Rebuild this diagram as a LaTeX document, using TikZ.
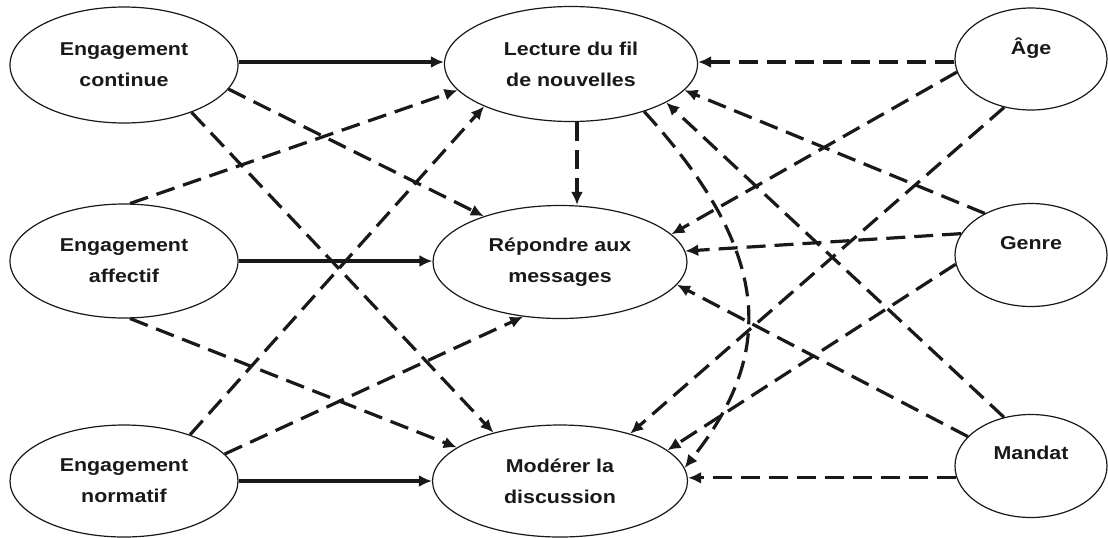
\documentclass[tikz,border=0pt]{standalone}
\usepackage{fontspec}
\newfontfamily\labfont[FakeStretch=1.15]{Liberation Sans}
\usetikzlibrary{shapes.geometric,arrows.meta}
\definecolor{ink}{RGB}{25,25,25}

\begin{document}
\begin{tikzpicture}[x=0.5pt,y=-0.5pt,
  labtext/.style={font={\labfont\bfseries\fontsize{9.3}{15.5}\selectfont}, text=ink},
  oval/.style={ellipse, draw=ink, line width=0.6pt, fill=white, inner sep=0pt,
               align=center, labtext},
  link/.style={line width=1.6pt, draw=ink, -{Latex[length=6.5pt,width=6pt]}},
  dlink/.style={link, dash pattern=on 9.5pt off 4.5pt},
]
\useasboundingbox (0,0) rectangle (1108,537);

% engagement types (left column)
\node[oval, minimum width=114pt, minimum height=58pt] (ec) at (124,65) {Engagement\\continue};
\node[oval, minimum width=114pt, minimum height=57pt] (ea) at (124,261) {Engagement\\affectif};
\node[oval, minimum width=114pt, minimum height=56pt] (en) at (124,481) {Engagement\\normatif};

% behaviours (middle column)
\node[oval, minimum width=126.5pt, minimum height=57.5pt] (lec) at (571,64) {Lecture du fil\\de nouvelles};
\node[oval, minimum width=127pt, minimum height=56.5pt] (rep) at (560,262) {Répondre aux\\messages};
\node[oval, minimum width=127.5pt, minimum height=56pt] (mod) at (560,481) {Modérer la\\discussion};

% control variables (right column)
\node[oval, minimum width=76pt, minimum height=51pt,
      label={[labtext, yshift=5.5pt]center:Âge}] (age) at (1031,59) {};
\node[oval, minimum width=76pt, minimum height=51.5pt,
      label={[labtext, yshift=6pt]center:Genre}] (gen) at (1031,255) {};
\node[oval, minimum width=76pt, minimum height=51.5pt,
      label={[labtext, yshift=6.5pt]center:Mandat}] (man) at (1031,466) {};

% direct effects
\coordinate (ecR) at ([yshift=1.5pt]ec.east);
\draw[link] (ecR) -- (ecR -| lec.west);
\draw[link] (ea.east) -- (ea.east -| rep.west);
\draw[link] (en.east) -- (en.east -| mod.west);

% cross effects of engagement
\draw[dlink] (ec.-13) -- (rep.149);
\draw[dlink] (ec.-35) -- (mod.144);
\draw[dlink] (ea.84) -- (lec.193);
\draw[dlink] (ea.-84) -- (mod.162);
\draw[dlink] (en.35) -- (lec.206);
\draw[dlink] (en.15) -- (rep.236);

% links between behaviours
\draw[dlink] ([xshift=3pt]lec.south) -- ([xshift=8.5pt]rep.north);
\draw[dlink] (lec.-33) .. controls (780,260) and (770,360) .. (mod.6);

% control variables
\coordinate (ageW) at ([yshift=-1.5pt]age.west);
\draw[dlink] (ageW) -- (ageW -| lec.east);
\draw[dlink] (age.190) -- (rep.14);
\draw[dlink] (age.241) -- (mod.34);
\draw[dlink] (gen.138) -- (lec.-13);
\draw[dlink] (gen.163) -- (rep.5);
\draw[dlink] (gen.187) -- (mod.16);
\draw[dlink] (man.119) -- (lec.-22);
\draw[dlink] (man.155) -- (rep.-11);
\draw[dlink] (man.189) -- (man.189 -| mod.east);
\end{tikzpicture}
\end{document}
